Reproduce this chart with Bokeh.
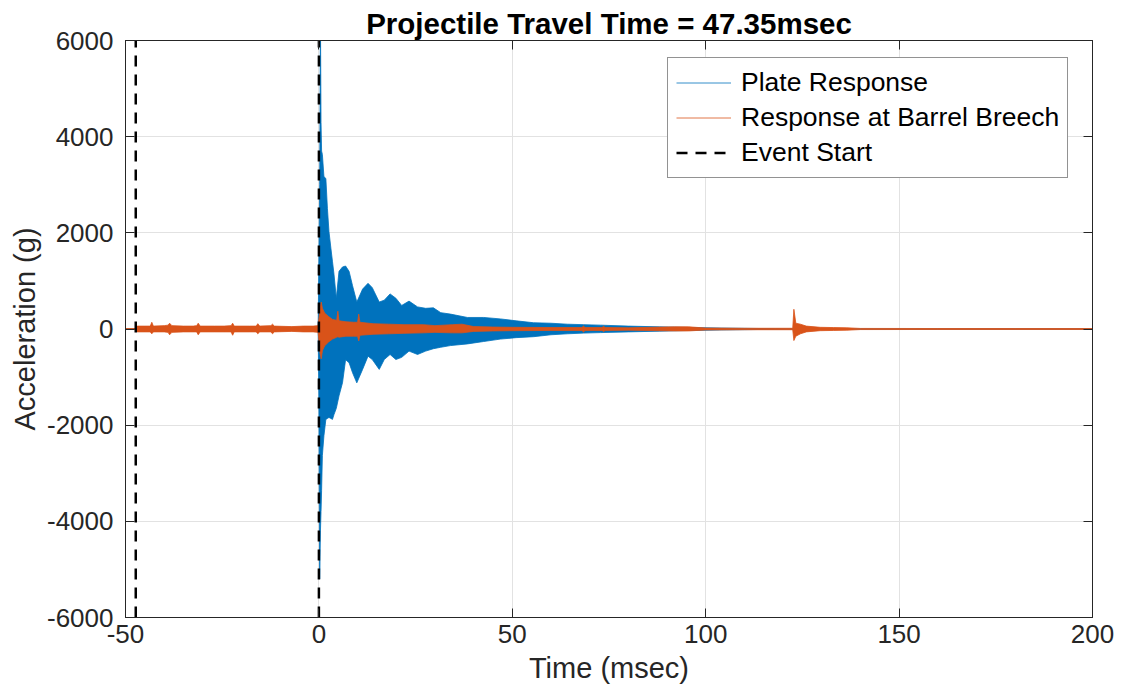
from bokeh.plotting import figure
from bokeh.models import Range1d, LinearAxis, FixedTicker, Legend, LegendItem
from bokeh.embed import file_html
from bokeh.resources import INLINE

# ---------------- data ----------------
title_text = "Projectile Travel Time = 47.35msec"
x_label = "Time (msec)"
y_label = "Acceleration (g)"
x_limits = [-50, 200]
y_limits = [-6000, 6000]
x_ticks = [-50, 0, 50, 100, 150, 200]
y_ticks = [-6000, -4000, -2000, 0, 2000, 4000, 6000]
event_times = [-47.35, 0.0]

# Plate response: envelope of the dense oscillation (msec, g)
plate_t = [-50, -0.2, 0.0, 0.2, 0.4, 0.55, 0.7, 0.9, 1.3, 1.8, 2.2, 2.6, 3.1, 3.5, 3.9,
           4.5, 5.2, 6.1, 6.9, 7.8, 8.7, 9.8, 11.3, 12.7, 13.8, 15.6, 16.9, 18.4,
           19.9, 21.4, 23.3, 25.5, 27.6, 29.6, 31.5, 34.0, 38.4, 42.6, 46.9, 51.0,
           55.5, 60.0, 64.2, 68.5, 72.8, 80.0, 88.0, 96.0, 104.0, 112.0, 118.0,
           121.0, 200.0]
plate_upper = [0, 0, 1500, 3000, 6500, 4300, 3700, 3630, 3170, 3130, 2510, 2030, 1680,
               1410, 1140, 640, 1200, 1290, 1310, 1200, 900, 560, 830, 950, 860, 560,
               600, 730, 640, 490, 580, 460, 430, 440, 340, 310, 240, 240, 210, 170,
               130, 120, 100, 90, 80, 60, 45, 30, 20, 12, 6, 0, 0]
plate_lower = [0, 0, -1500, -5200, -4200, -3800, -3360, -2630, -2220, -1880, -1860,
               -1840, -1860, -1880, -1780, -1650, -1390, -1120, -640, -700, -910, -1120,
               -840, -565, -635, -840, -635, -530, -635, -590, -460, -530, -460, -410,
               -380, -345, -310, -260, -210, -180, -160, -120, -100, -85, -75, -60, -45,
               -30, -20, -12, -6, 0, 0]

# Response at barrel breech: envelope (msec, g)
breech_t = [-50, -47.4, -47.0, -45.0, -43.6, -43.2, -42.8, -40.0, -39.0, -38.6, -38.0,
            -35.0, -32.5, -31.6, -31.2, -30.7, -27.0, -24.5, -22.7, -22.3, -21.9, -18.0,
            -16.2, -15.8, -15.3, -12.4, -12.0, -11.5, -7.0, -4.0, -1.5, -0.2, 0.3, 0.6,
            0.9, 1.5, 2.5, 3.5, 4.6, 4.9, 5.2, 7.0, 9.0, 10.0, 10.3, 10.6, 14.0, 18.0,
            22.0, 27.0, 30.0, 34.5, 37.0, 40.0, 45.0, 50.0, 60.0, 68.0, 68.4, 68.8,
            73.2, 73.6, 74.0, 80.0, 92.0, 95.6, 100.0, 110.0, 122.5, 122.8, 123.3,
            124.5, 126.0, 129.6, 133.0, 136.5, 140.0, 160.0, 180.0, 200.0]
breech_upper = [10, 10, 60, 60, 60, 140, 60, 70, 80, 120, 70, 60, 60, 70, 120, 60, 60,
                60, 70, 120, 60, 60, 60, 110, 60, 70, 100, 60, 50, 60, 60, 70, 420, 560,
                430, 330, 260, 200, 180, 370, 170, 150, 140, 140, 310, 140, 110, 100, 90,
                90, 70, 90, 100, 50, 40, 35, 30, 30, 60, 30, 30, 55, 30, 25, 45, 45, 20,
                15, 15, 410, 120, 100, 60, 35, 30, 25, 12, 10, 10, 10]
breech_lower = [-10, -10, -60, -60, -60, -100, -60, -60, -70, -120, -70, -60, -60, -60,
                -120, -60, -60, -60, -60, -130, -60, -60, -60, -100, -60, -60, -100, -60,
                -50, -60, -60, -70, -500, -620, -450, -350, -270, -210, -170, -160, -170,
                -150, -150, -150, -250, -130, -110, -100, -90, -80, -70, -80, -80, -50,
                -40, -35, -30, -30, -60, -30, -30, -50, -30, -25, -40, -40, -20, -15,
                -15, -240, -150, -100, -60, -35, -30, -25, -12, -10, -10, -10]

BLUE = "#0072BD"
ORANGE = "#D95319"
AXIS_COLOR = "#262626"
FONT = "Liberation Sans"

p = figure(width=1121, height=700,
           x_range=Range1d(x_limits[0], x_limits[1]),
           y_range=Range1d(y_limits[0], y_limits[1]),
           output_backend="svg", toolbar_location=None,
           min_border_left=125, min_border_right=29,
           min_border_top=40, min_border_bottom=83)

p.background_fill_color = "white"
p.border_fill_color = "white"
p.outline_line_color = AXIS_COLOR
p.outline_line_width = 1

# Title
p.title.text = title_text
p.title.align = "center"
p.title.text_font = FONT
p.title.text_font_size = "29.5px"
p.title.text_font_style = "bold"
p.title.text_color = "black"
p.title.standoff = 2

# Axes
for ax, ticks in ((p.xaxis[0], x_ticks), (p.yaxis[0], y_ticks)):
    ax.ticker = FixedTicker(ticks=ticks)
    ax.major_label_overrides = {t: str(t) for t in ticks}
    ax.major_tick_in = 9
    ax.major_tick_out = 0
    ax.minor_tick_line_color = None
    ax.major_tick_line_color = AXIS_COLOR
    ax.axis_line_color = AXIS_COLOR
    ax.major_label_text_font = FONT
    ax.major_label_text_font_size = "26px"
    ax.major_label_text_color = AXIS_COLOR
    ax.axis_label_text_font = FONT
    ax.axis_label_text_font_size = "29px"
    ax.axis_label_text_font_style = "normal"
    ax.axis_label_text_color = AXIS_COLOR

p.xaxis.axis_label = x_label
p.yaxis.axis_label = y_label
p.xaxis.major_label_standoff = 7
p.xaxis.axis_label_standoff = 6
p.yaxis.major_label_standoff = 12
p.yaxis.axis_label_standoff = 3

for loc, ticks in (("above", x_ticks), ("right", y_ticks)):
    ax = LinearAxis(ticker=FixedTicker(ticks=ticks),
                    major_label_text_font_size="0px",
                    major_label_text_color=None,
                    major_label_standoff=0,
                    major_tick_in=9, major_tick_out=0,
                    minor_tick_line_color=None,
                    major_tick_line_color=AXIS_COLOR,
                    axis_line_color=AXIS_COLOR)
    p.add_layout(ax, loc)

# Grid
p.xgrid.ticker = FixedTicker(ticks=x_ticks)
p.ygrid.ticker = FixedTicker(ticks=y_ticks)
p.grid.grid_line_color = "#e2e2e2"
p.grid.grid_line_width = 1

# Plate response (blue)
p.varea(x=plate_t, y1=plate_lower, y2=plate_upper, fill_color=BLUE, fill_alpha=1.0)
blue_line = p.line(plate_t, plate_upper, line_color=BLUE, line_width=0.8)
p.line(plate_t, plate_lower, line_color=BLUE, line_width=0.8)

# Breech response (orange)
p.varea(x=breech_t, y1=breech_lower, y2=breech_upper, fill_color=ORANGE, fill_alpha=1.0)
orange_line = p.line(breech_t, breech_upper, line_color=ORANGE, line_width=0.8)
p.line(breech_t, breech_lower, line_color=ORANGE, line_width=0.8)

# Event start lines
event_r = p.multi_line(xs=[[t, t] for t in event_times],
                       ys=[[y_limits[0], y_limits[1]] for _ in event_times],
                       line_color="black", line_width=2.5, line_dash="11 8")

legend = Legend(items=[LegendItem(label="Plate Response", renderers=[blue_line]),
                       LegendItem(label="Response at Barrel Breech", renderers=[orange_line]),
                       LegendItem(label="Event Start", renderers=[event_r])],
                location=(542, 439), padding=8, spacing=2,
                label_text_font=FONT, label_text_font_size="26.5px",
                label_text_color="black", label_standoff=10,
                glyph_width=55, glyph_height=33, label_height=33,
                border_line_color=AXIS_COLOR, border_line_width=1,
                background_fill_color="white", background_fill_alpha=1.0)
p.add_layout(legend)

open("out.html", "w").write(file_html(p, INLINE))
